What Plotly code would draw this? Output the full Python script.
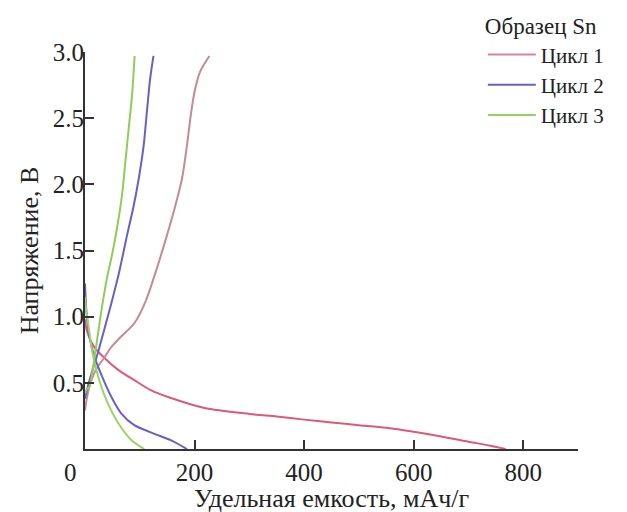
import plotly.graph_objects as go

# Cycle 1 (discharge / charge)
c1_dis_cap = [0, 3, 17, 35, 60, 90, 120, 157, 218, 300, 350, 400, 450, 500, 550, 600, 650, 700, 740, 768]
c1_dis_v = [0.98, 0.90, 0.77, 0.69, 0.60, 0.52, 0.445, 0.385, 0.31, 0.265, 0.245, 0.222, 0.20, 0.18, 0.16, 0.13, 0.095, 0.055, 0.025, 0.0]
c1_chg_cap = [0, 2, 8, 20, 35, 48, 66, 90, 111, 130, 150, 165, 177, 186, 193, 200, 210, 227]
c1_chg_v = [0.29, 0.35, 0.47, 0.60, 0.69, 0.77, 0.85, 0.95, 1.12, 1.35, 1.62, 1.84, 2.04, 2.29, 2.52, 2.70, 2.85, 2.97]

# Cycle 2
c2_dis_cap = [0, 3, 8, 17, 29, 48, 66, 90, 133, 160, 186]
c2_dis_v = [1.25, 1.02, 0.85, 0.70, 0.57, 0.395, 0.27, 0.18, 0.105, 0.06, 0.0]
c2_chg_cap = [0, 5, 14, 23, 35, 48, 62, 77, 89, 98, 107, 113, 119, 125]
c2_chg_v = [0.38, 0.47, 0.60, 0.72, 0.90, 1.10, 1.33, 1.62, 1.84, 2.04, 2.29, 2.55, 2.80, 2.97]

# Cycle 3
c3_dis_cap = [0, 2, 5, 14, 26, 41, 60, 84, 108]
c3_dis_v = [1.15, 1.05, 0.97, 0.72, 0.52, 0.35, 0.20, 0.07, 0.0]
c3_chg_cap = [0, 3, 8, 14, 23, 32, 42, 49, 58.5, 67.6, 73.7, 79.7, 85.8, 90.6]
c3_chg_v = [0.42, 0.45, 0.47, 0.60, 0.85, 1.10, 1.33, 1.46, 1.67, 1.92, 2.17, 2.42, 2.67, 2.97]

legend_title = "Образец Sn"
names = ["Цикл 1", "Цикл 2", "Цикл 3"]
x_title = "Удельная емкость, мАч/г"
y_title = "Напряжение, В"
x_ticks = [200, 400, 600, 800]
y_ticks = [0.5, 1.0, 1.5, 2.0, 2.5, 3.0]

FONT = "Liberation Serif, Times New Roman, serif"
FS = 25

fig = go.Figure()
series = [
    (names[0], c1_dis_cap, c1_dis_v, "#dc5a78", c1_chg_cap, c1_chg_v, "#c48a95", "#d8849a"),
    (names[1], c2_dis_cap, c2_dis_v, "#6a5fc6", c2_chg_cap, c2_chg_v, "#6a5fc6", "#6a5fc6"),
    (names[2], c3_dis_cap, c3_dis_v, "#9ad468", c3_chg_cap, c3_chg_v, "#90cc58", "#94d060"),
]
for name, dx, dy, dcol, cx, cy, ccol, lcol in series:
    fig.add_trace(go.Scatter(x=[None], y=[None], mode="lines", name=name,
                             line=dict(color=lcol, width=2)))
    fig.add_trace(go.Scatter(x=dx, y=dy, mode="lines",
                             line=dict(color=dcol, width=2, shape="spline", smoothing=0.8),
                             showlegend=False))
    fig.add_trace(go.Scatter(x=cx, y=cy, mode="lines",
                             line=dict(color=ccol, width=2, shape="spline", smoothing=0.8),
                             showlegend=False))

fig.update_layout(
    width=627, height=512,
    margin=dict(l=85, r=49, t=52, b=63, autoexpand=False),
    paper_bgcolor="white", plot_bgcolor="white",
    font=dict(family=FONT, size=FS, color="#222"),
    legend=dict(
        title=dict(text=legend_title, font=dict(size=23)),
        x=0.807, xanchor="left", y=1.12, yanchor="top",
        bgcolor="rgba(0,0,0,0)", font=dict(size=21),
        itemwidth=48, tracegroupgap=0,
    ),
    xaxis=dict(
        range=[0, 900], tickvals=x_ticks, ticks="inside", ticklen=9, tickwidth=1.5,
        tickcolor="#333", showline=True, linecolor="#333", linewidth=2,
        showgrid=False, zeroline=False, ticklabelstandoff=0, automargin=False,
    ),
    yaxis=dict(
        range=[0, 3.0], tickvals=y_ticks, tickformat=".1f", ticks="inside", ticklen=9,
        tickwidth=1.5, tickcolor="#333", showline=True, linecolor="#333", linewidth=2,
        showgrid=False, zeroline=False, ticklabelstandoff=-6, automargin=False,
        title=dict(text=y_title, standoff=7, font=dict(size=26)),
    ),
    showlegend=True,
)
fig.add_annotation(text="0", x=-0.03, xref="paper", y=-0.058, yref="paper",
                   showarrow=False, font=dict(size=FS, family=FONT, color="#222"),
                   xanchor="center", yanchor="middle")
fig.add_annotation(text=x_title, x=0.5, xref="paper", y=-0.124, yref="paper",
                   showarrow=False, font=dict(size=26, family=FONT, color="#222"),
                   xanchor="center", yanchor="middle")

fig.write_html("out.html", config={"displayModeBar": False},
               post_script="document.body.style.margin='0';")
